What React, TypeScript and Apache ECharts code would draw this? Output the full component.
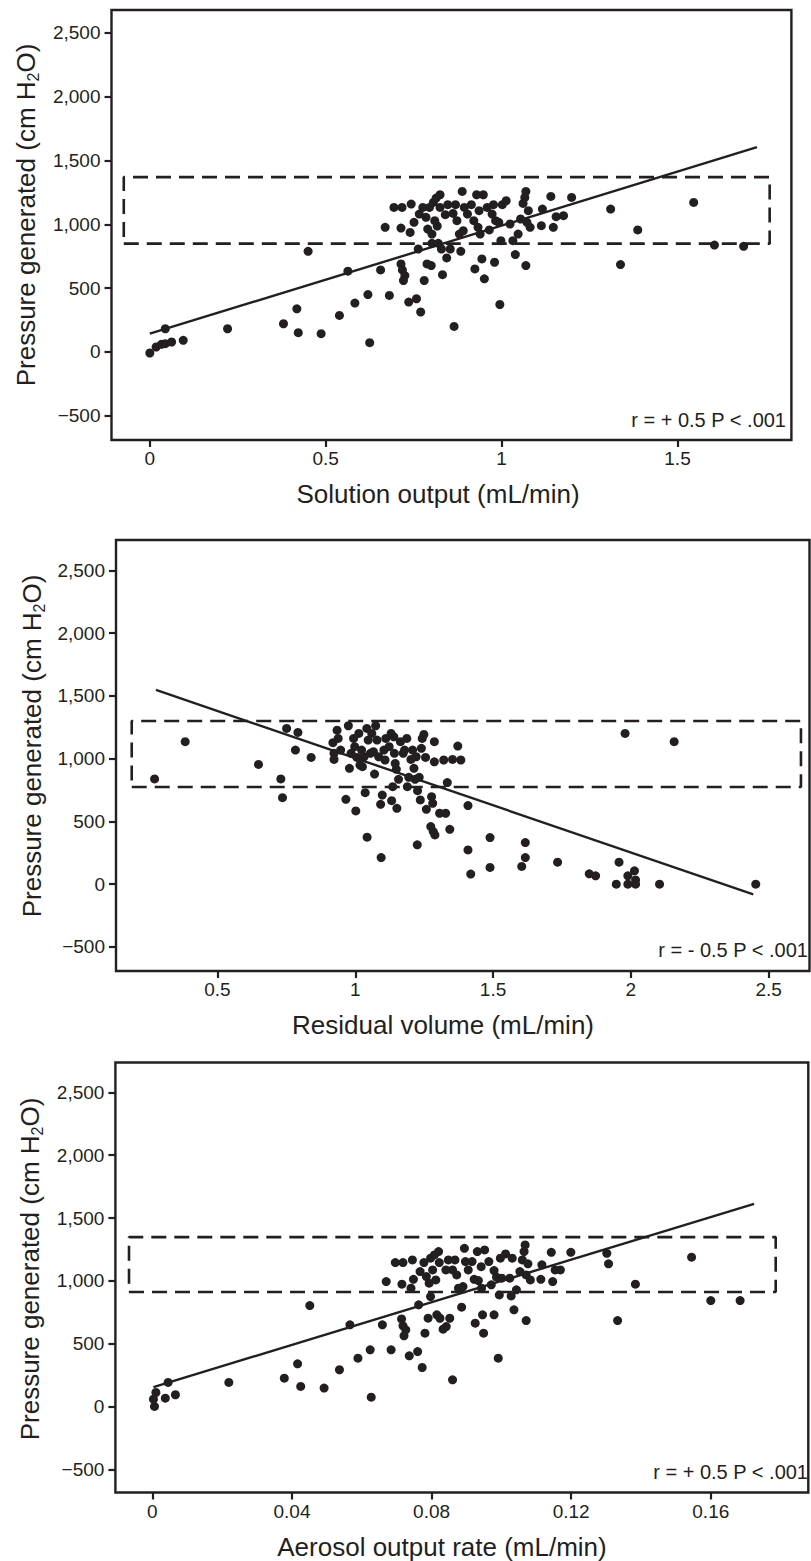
import React, { useEffect, useRef } from "react";
import * as echarts from "echarts";

const INK = "#231f20";
const FONT = "'Liberation Sans', Arial, Helvetica, sans-serif";

// ---------- Panel 1: Solution output ----------
const solutionPoints: [number, number][] = [
  [0, -8], [0.018, 39], [0.033, 60], [0.044, 65], [0.044, 182], [0.062, 78], [0.095, 91],
  [0.221, 182], [0.38, 221], [0.418, 338], [0.422, 151], [0.45, 789], [0.487, 143],
  [0.539, 286], [0.563, 633], [0.583, 383], [0.62, 450], [0.625, 73], [0.656, 643],
  [0.669, 977], [0.681, 443], [0.694, 1133], [0.714, 971], [0.717, 1133], [0.714, 690],
  [0.718, 643], [0.721, 560], [0.725, 599], [0.736, 391], [0.74, 937], [0.743, 1159],
  [0.751, 1016], [0.758, 417], [0.763, 807], [0.766, 1081], [0.77, 313], [0.776, 1133],
  [0.78, 560], [0.785, 1055], [0.788, 690], [0.79, 963], [0.795, 1133], [0.8, 677],
  [0.802, 924], [0.806, 1172], [0.802, 851], [0.81, 1029], [0.814, 1206], [0.817, 987],
  [0.82, 851], [0.825, 1232], [0.829, 807], [0.832, 606], [0.825, 1133], [0.84, 1076],
  [0.844, 737], [0.847, 1154], [0.854, 807], [0.862, 1086], [0.865, 200], [0.869, 1154],
  [0.873, 1029], [0.88, 924], [0.884, 789], [0.888, 1258], [0.891, 950], [0.894, 1133],
  [0.903, 1081], [0.914, 1154], [0.921, 1029], [0.924, 651], [0.929, 1232], [0.933, 977],
  [0.936, 1107], [0.939, 924], [0.944, 729], [0.948, 1232], [0.951, 573], [0.959, 1133],
  [0.965, 956], [0.973, 1081], [0.977, 1154], [0.98, 703], [0.983, 1029], [0.992, 1016],
  [0.995, 372], [0.998, 872], [1.002, 1154], [1.013, 1185], [1.024, 1003], [1.032, 872],
  [1.039, 763], [1.047, 924], [1.054, 1042], [1.061, 1164], [1.066, 1211], [1.069, 1258],
  [1.069, 677], [1.072, 1016], [1.076, 1107], [1.081, 977], [1.113, 990], [1.116, 1120],
  [1.14, 1219], [1.147, 977], [1.155, 1060], [1.176, 1068], [1.199, 1211], [1.31, 1120],
  [1.338, 685], [1.387, 956], [1.546, 1172], [1.605, 838], [1.688, 828],
];
const solutionFit: [number, number][] = [[0, 143], [1.726, 1605]];
const solutionBoxX = [-0.074, 1.762];
const solutionBoxY = [849, 1370];
const solutionTicks = [0, 0.5, 1, 1.5];

// ---------- Panel 2: Residual volume ----------
const residualPoints: [number, number][] = [
  [0.272, 838], [0.383, 1135], [0.649, 954], [0.73, 838], [0.736, 689], [0.751, 1241],
  [0.783, 1068], [0.792, 1209], [0.84, 1010], [0.923, 1042], [0.923, 994], [0.934, 1227],
  [0.938, 1161], [0.919, 1127], [0.947, 1068], [0.966, 676], [0.975, 1262], [0.979, 923],
  [0.985, 1042], [0.994, 1161], [0.998, 1095], [1.002, 583], [1.006, 1010], [1.013, 1201],
  [1.017, 949], [1.023, 1068], [1.026, 936], [1.032, 1015], [1.036, 729], [1.042, 1241],
  [1.043, 374], [1.047, 1148], [1.055, 1042], [1.06, 1201], [1.066, 1055], [1.07, 877],
  [1.074, 1262], [1.079, 1148], [1.085, 1015], [1.092, 636], [1.094, 212], [1.098, 710],
  [1.104, 1068], [1.108, 989], [1.111, 1161], [1.123, 1095], [1.13, 1201], [1.132, 665],
  [1.136, 777], [1.14, 1174], [1.142, 1042], [1.145, 962], [1.149, 915], [1.151, 604],
  [1.157, 835], [1.164, 1135], [1.174, 1042], [1.179, 1068], [1.187, 1161], [1.189, 777],
  [1.194, 851], [1.202, 994], [1.208, 1068], [1.213, 923], [1.217, 835], [1.221, 1015],
  [1.225, 313], [1.226, 745], [1.232, 851], [1.236, 671], [1.24, 1082], [1.243, 1161],
  [1.249, 1193], [1.255, 1010], [1.258, 596], [1.274, 459], [1.277, 697], [1.281, 644],
  [1.283, 419], [1.289, 392], [1.287, 1135], [1.287, 975], [1.306, 565], [1.321, 989],
  [1.328, 565], [1.334, 809], [1.343, 437], [1.353, 994], [1.372, 1100], [1.383, 989],
  [1.409, 626], [1.409, 273], [1.419, 80], [1.489, 371], [1.489, 133], [1.604, 141],
  [1.617, 331], [1.617, 212], [1.734, 175], [1.849, 82], [1.872, 66], [1.947, 0],
  [1.957, 175], [1.979, 1201], [1.989, 0], [1.989, 66], [2.013, 106], [2.017, 34],
  [2.017, 0], [2.104, 0], [2.157, 1135], [2.453, 0],
];
const residualFit: [number, number][] = [[0.277, 1547], [2.444, -81]];
const residualBoxX = [0.189, 2.617];
const residualBoxY = [774, 1300];
const residualTicks = [0.5, 1, 1.5, 2, 2.5];

// ---------- Panel 3: Aerosol output rate ----------
const aerosolPoints: [number, number][] = [
  [0.0006, 0], [0.0003, 58], [0.001, 111], [0.0037, 66], [0.0045, 191], [0.0066, 93],
  [0.0219, 191], [0.0378, 225], [0.0416, 339], [0.0425, 159], [0.0451, 803], [0.0492, 146],
  [0.0536, 292], [0.0566, 650], [0.0589, 384], [0.0624, 451], [0.0627, 74], [0.0659, 650],
  [0.067, 994], [0.0684, 451], [0.0696, 1145], [0.0715, 973], [0.0718, 1145], [0.0714, 697],
  [0.0718, 642], [0.0721, 562], [0.0726, 610], [0.0736, 403], [0.0741, 941], [0.0745, 1166],
  [0.0748, 1012], [0.076, 437], [0.0763, 809], [0.0767, 1074], [0.0773, 310], [0.0778, 1145],
  [0.0781, 583], [0.0785, 1034], [0.079, 703], [0.0793, 981], [0.0797, 1180], [0.0797, 875],
  [0.0803, 1087], [0.0808, 1206], [0.0812, 1007], [0.0815, 729], [0.082, 1233], [0.0824, 702],
  [0.0833, 615], [0.0822, 1145], [0.0841, 1087], [0.0842, 636], [0.0848, 1166], [0.0852, 702],
  [0.086, 212], [0.086, 1087], [0.0867, 1166], [0.0872, 1047], [0.0877, 941], [0.0886, 790],
  [0.0894, 1259], [0.089, 954], [0.0897, 1153], [0.0905, 1087], [0.0916, 1153], [0.0922, 1012],
  [0.0925, 663], [0.0931, 1233], [0.0934, 1002], [0.0942, 1113], [0.0943, 941], [0.0946, 729],
  [0.0952, 1246], [0.0949, 583], [0.0964, 1153], [0.0971, 968], [0.0979, 1082], [0.0979, 729],
  [0.0986, 1029], [0.0991, 384], [0.0994, 888], [0.0997, 1180], [0.1001, 1021], [0.1012, 1214],
  [0.1024, 1021], [0.1028, 880], [0.1031, 1180], [0.1036, 769], [0.1043, 928], [0.1053, 1074],
  [0.106, 1166], [0.1065, 1233], [0.1068, 1286], [0.1071, 684], [0.1071, 1047], [0.1076, 1135],
  [0.1083, 1007], [0.1113, 1012], [0.1116, 1127], [0.1143, 1227], [0.1147, 994], [0.1154, 1087],
  [0.1169, 1087], [0.1199, 1227], [0.1302, 1219], [0.1307, 1135], [0.1333, 684], [0.1384, 973],
  [0.1545, 1188], [0.16, 843], [0.1684, 843],
];
const aerosolFit: [number, number][] = [[0.0003, 154], [0.1724, 1613]];
const aerosolBoxX = [-0.0067, 0.1786];
const aerosolBoxY = [911, 1348];
const aerosolTicks = [0, 0.04, 0.08, 0.12, 0.16];

const pressureTicks = [-500, 0, 500, 1000, 1500, 2000, 2500];

const xTitles = ["Solution output (mL/min)", "Residual volume (mL/min)", "Aerosol output rate (mL/min)"];
const stats = ["r = + 0.5 P < .001", "r = - 0.5 P < .001", "r = + 0.5 P < .001"];

const boxPath = (bx: number[], by: number[]): [number, number][] => [
  [bx[0], by[0]], [bx[1], by[0]], [bx[1], by[1]], [bx[0], by[1]], [bx[0], by[0]],
];

const fmtY = (v: number) =>
  v < 0 ? "\u2212" + Math.abs(v).toLocaleString("en-US") : v.toLocaleString("en-US");

export default function App() {
  const ref = useRef<HTMLDivElement>(null);
  useEffect(() => {
    if (!ref.current) return;
    const chart = echarts.init(ref.current, undefined, { renderer: "svg" });

    const grids = [
      { left: 111.5, top: 10, width: 679.9, height: 430 },
      { left: 116, top: 540, width: 693.5, height: 431 },
      { left: 115.4, top: 1062.5, width: 692.9, height: 430 },
    ];
    const xRanges = [
      [-0.1089, 1.8238],
      [0.132, 2.648],
      [-0.0106, 0.18794],
    ];
    const yRanges = [
      [-690, 2680],
      [-692, 2742],
      [-685, 2738],
    ];
    const xTicks = [solutionTicks, residualTicks, aerosolTicks];
    const pts = [solutionPoints, residualPoints, aerosolPoints];
    const fits = [solutionFit, residualFit, aerosolFit];
    const boxes = [
      boxPath(solutionBoxX, solutionBoxY),
      boxPath(residualBoxX, residualBoxY),
      boxPath(aerosolBoxX, aerosolBoxY),
    ];

    const tickStyle = { show: true, length: 7, lineStyle: { color: INK, width: 2.2 } };
    const labelStyle = { color: INK, fontSize: 19, fontFamily: FONT };

    const series: any[] = [];
    for (let i = 0; i < 3; i++) {
      series.push({
        type: "scatter",
        xAxisIndex: i,
        yAxisIndex: i,
        data: pts[i],
        symbolSize: 9,
        itemStyle: { color: INK, opacity: 1 },
        silent: true,
        z: 3,
      });
      series.push({
        type: "line",
        xAxisIndex: i,
        yAxisIndex: i,
        data: fits[i],
        symbol: "none",
        lineStyle: { color: INK, width: 2.4 },
        silent: true,
        z: 4,
      });
      series.push({
        type: "line",
        xAxisIndex: i,
        yAxisIndex: i,
        data: boxes[i],
        symbol: "none",
        lineStyle: { color: INK, width: 2.6, type: [15, 8] },
        silent: true,
        z: 2,
      });
    }

    const graphic: any[] = [];
    const yTitlePos = [
      [26, 215],
      [32, 746],
      [30, 1269],
    ];
    const xTitlePos = [
      [438, 494],
      [443, 1025],
      [442, 1547],
    ];
    const statPos = [
      [786, 420],
      [808, 950],
      [808, 1472],
    ];
    for (let i = 0; i < 3; i++) {
      graphic.push({
        type: "text",
        x: yTitlePos[i][0],
        y: yTitlePos[i][1],
        rotation: Math.PI / 2,
        style: {
          text: "{m|Pressure generated (cm H}{s|2}{m|O)}",
          align: "center",
          verticalAlign: "middle",
          fill: INK,
          rich: {
            m: { fontSize: 26, fontFamily: FONT, fill: INK, lineHeight: 30, verticalAlign: "middle" },
            s: { fontSize: 16, fontFamily: FONT, fill: INK, lineHeight: 16, verticalAlign: "bottom" },
          },
        },
      });
      graphic.push({
        type: "text",
        x: xTitlePos[i][0],
        y: xTitlePos[i][1],
        style: {
          text: xTitles[i],
          fontSize: 26,
          fontFamily: FONT,
          fill: INK,
          align: "center",
          verticalAlign: "middle",
        },
      });
      graphic.push({
        type: "text",
        x: statPos[i][0],
        y: statPos[i][1],
        z: 10,
        style: {
          text: stats[i],
          fontSize: 20,
          fontFamily: FONT,
          fill: INK,
          align: "right",
          verticalAlign: "middle",
        },
      });
    }

    chart.setOption({
      animation: false,
      backgroundColor: "#ffffff",
      grid: grids.map((g) => ({
        ...g,
        show: true,
        borderColor: INK,
        borderWidth: 2.4,
        backgroundColor: "transparent",
        containLabel: false,
        outerBoundsMode: "none",
      })),
      xAxis: grids.map((_, i) => ({
        type: "value",
        gridIndex: i,
        position: "bottom",
        min: xRanges[i][0],
        max: xRanges[i][1],
        splitLine: { show: false },
        axisLine: { show: false, onZero: false },
        axisTick: { ...tickStyle, customValues: xTicks[i] },
        axisLabel: {
          ...labelStyle,
          margin: 9,
          customValues: xTicks[i],
          formatter: (v: number) => String(v),
        },
      })),
      yAxis: grids.map((_, i) => ({
        type: "value",
        gridIndex: i,
        position: "left",
        min: yRanges[i][0],
        max: yRanges[i][1],
        splitLine: { show: false },
        axisLine: { show: false, onZero: false },
        axisTick: { ...tickStyle, customValues: pressureTicks },
        axisLabel: {
          ...labelStyle,
          margin: 11,
          customValues: pressureTicks,
          formatter: (v: number) => fmtY(v),
        },
      })),
      series,
      graphic,
    });

    return () => chart.dispose();
  }, []);

  return (
    <div
      ref={ref}
      style={{ position: "absolute", left: 0, top: 0, width: 811, height: 1561, background: "#fff" }}
    />
  );
}
